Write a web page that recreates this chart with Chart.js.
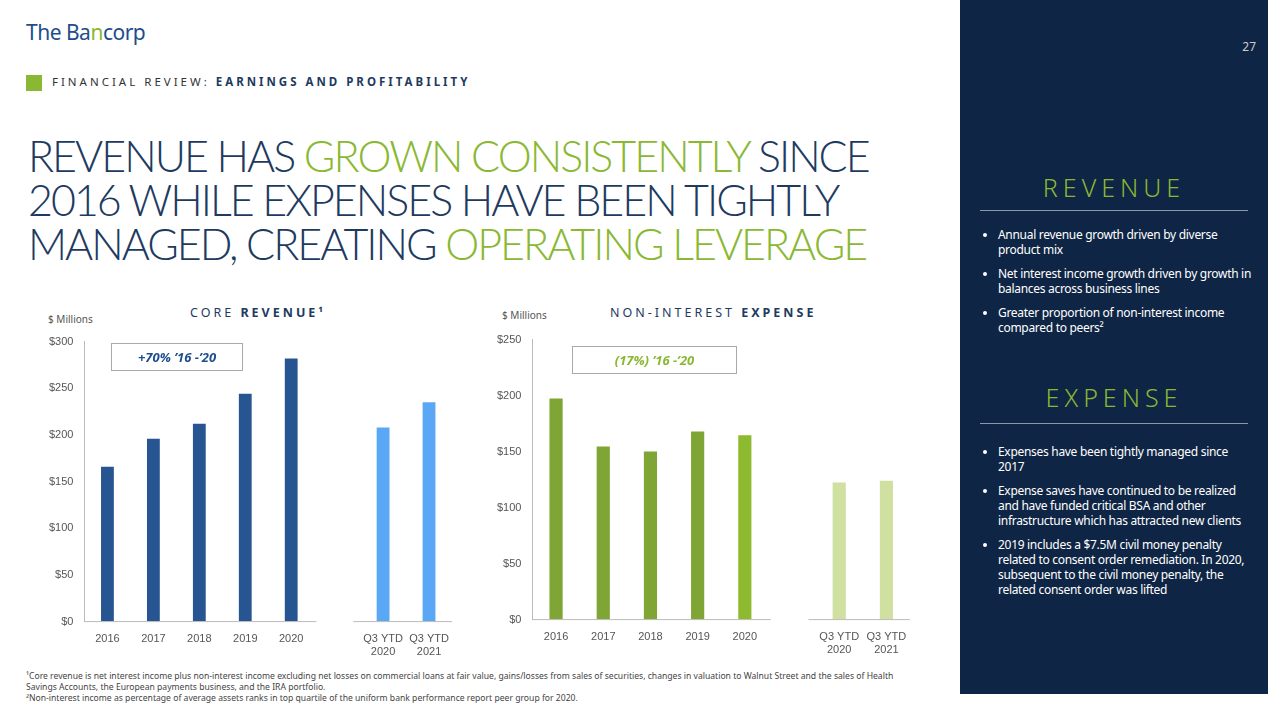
<!DOCTYPE html>
<html lang="en">
<head>
<meta charset="UTF-8">
<title>Revenue and Expense</title>
<style>
  body, html { margin:0; padding:0; overflow:hidden; background:#fff; font-family:"Noto Sans", sans-serif; }
  #slide { position:relative; width:1280px; height:720px; }
  .logo { position:absolute; left:26px; top:18px; font-size:21px; color:#1e4e8c; letter-spacing:-0.5px; }
  .logo span { color:#8ab833; }
  .sect { position:absolute; left:26px; top:74px; font-size:11.5px; letter-spacing:3px; color:#333; }
  .sect i { display:inline-block; width:16px; height:16px; background:#8ab833; vertical-align:middle; margin-right:10px; }
  .sect b { color:#1e3a5f; }
  h1 { position:absolute; left:28px; top:134px; margin:0; font-weight:300; font-size:43px; line-height:44px;
       color:#1e3a5f; letter-spacing:-2px; font-family:"Lato", sans-serif; }
  h1 span { color:#8ab833; }
  .ctitle { position:absolute; font-size:12.5px; letter-spacing:3px; color:#1e3a5f; }
  .unit { position:absolute; font-size:10px; color:#555; }
  .box { position:absolute; border:1px solid #aaa; font-weight:bold; font-style:italic; font-size:13px; text-align:center; line-height:26px; height:26px; }
  canvas.c { position:absolute; }
  .foot { position:absolute; left:26px; top:671px; font-size:8.6px; color:#444; line-height:11px; width:900px; }
  #panel { position:absolute; left:960px; top:0; width:308px; height:694px; background:#0f2545; color:#fff; }
  #panel .pg { position:absolute; right:12px; top:38px; font-size:12px; color:#ccc; }
  #panel h2 { position:absolute; left:0; width:308px; text-align:center; margin:0; font-weight:300; font-size:25px; letter-spacing:5px; color:#8ab833; }
  #panel hr { position:absolute; left:20px; width:268px; border:0; border-top:1px solid #8899aa; margin:0; }
  #panel ul { position:absolute; left:24px; width:255px; margin:0; padding:0 0 0 14px; font-size:12px; line-height:15px; letter-spacing:-0.3px; }
  #panel li { margin-bottom:9px; }
</style>
</head>
<body>
<div id="slide">
  <div class="logo">The Ba<span>n</span>corp</div>
  <div class="sect"><i></i>FINANCIAL REVIEW: <b>EARNINGS AND PROFITABILITY</b></div>
  <h1>REVENUE HAS <span>GROWN CONSISTENTLY</span> SINCE<br>2016 WHILE EXPENSES HAVE BEEN TIGHTLY<br>MANAGED, CREATING <span>OPERATING LEVERAGE</span></h1>

  <div class="ctitle" style="left:190px;top:304px">CORE <b>REVENUE¹</b></div>
  <div class="unit" style="left:48px;top:312px">$ Millions</div>
  <canvas class="c" id="rev" width="410" height="330" style="left:46px;top:332px"></canvas>
  <div class="box" style="left:111px;top:343px;width:130px;color:#1e4e8c">+70% ’16 -’20</div>

  <div class="ctitle" style="left:610px;top:304px">NON-INTEREST <b>EXPENSE</b></div>
  <div class="unit" style="left:502px;top:308px">$ Millions</div>
  <canvas class="c" id="exp" width="420" height="330" style="left:494px;top:330px"></canvas>
  <div class="box" style="left:572px;top:346px;width:163px;color:#8ab833">(17%) ’16 -’20</div>

  <div class="foot">¹Core revenue is net interest income plus non-interest income excluding net losses on commercial loans at fair value, gains/losses from sales of securities, changes in valuation to Walnut Street and the sales of Health Savings Accounts, the European payments business, and the IRA portfolio.<br>²Non-interest income as percentage of average assets ranks in top quartile of the uniform bank performance report peer group for 2020.</div>

  <div id="panel">
    <div class="pg">27</div>
    <h2 style="top:170px">REVENUE</h2>
    <hr style="top:210px">
    <ul style="top:227px">
      <li>Annual revenue growth driven by diverse product mix</li>
      <li>Net interest income growth driven by growth in balances across business lines</li>
      <li>Greater proportion of non-interest income compared to peers²</li>
    </ul>
    <h2 style="top:380px">EXPENSE</h2>
    <hr style="top:423px">
    <ul style="top:444px">
      <li>Expenses have been tightly managed since 2017</li>
      <li>Expense saves have continued to be realized and have funded critical BSA and other infrastructure which has attracted new clients</li>
      <li>2019 includes a $7.5M civil money penalty related to consent order remediation. In 2020, subsequent to the civil money penalty, the related consent order was lifted</li>
    </ul>
  </div>
</div>

<script src="https://cdn.jsdelivr.net/npm/chart.js"></script>
<script>
  const labels = ['2016', '2017', '2018', '2019', '2020', '', ['Q3 YTD', '2020'], ['Q3 YTD', '2021']];
  const revenue = [166, 196, 212, 244, 282, null, 208, 235];
  const expense = [197.5, 154.5, 150, 168, 164.5, null, 122.5, 124];

  // baseline drawn in two pieces, broken at the blank category
  const splitBase = {
    id: 'splitBase',
    afterDatasetsDraw(chart) {
      const x = chart.scales.x, y = chart.scales.y, c = chart.ctx;
      const step = x.getPixelForValue(1) - x.getPixelForValue(0);
      const yb = y.getPixelForValue(0);
      c.save();
      c.strokeStyle = '#bbb'; c.lineWidth = 1;
      c.beginPath();
      c.moveTo(x.left, yb); c.lineTo(x.getPixelForValue(4) + step * 0.55, yb);
      c.moveTo(x.getPixelForValue(6) - step * 0.65, yb); c.lineTo(x.right, yb);
      c.stroke();
      c.restore();
    }
  };

  function makeChart(id, data, colors, max) {
    return new Chart(document.getElementById(id).getContext('2d'), {
      type: 'bar',
      data: { labels, datasets: [{ data, backgroundColor: colors, barPercentage: 0.62, categoryPercentage: 0.45 }] },
      options: {
        responsive: false, animation: false,
        plugins: { legend: { display: false }, tooltip: { enabled: false } },
        layout: { padding: { top: 6, right: 4 } },
        scales: {
          x: { grid: { display: false }, border: { display: false },
               ticks: { color: '#555', font: { size: 11 }, maxRotation: 0, autoSkip: false } },
          y: { min: 0, max, grid: { display: false }, border: { color: '#bbb' },
               ticks: { stepSize: 50, color: '#555', font: { size: 11 }, callback: v => '$' + v } }
        }
      },
      plugins: [splitBase]
    });
  }

  makeChart('rev', revenue, ['#275592', '#275592', '#275592', '#275592', '#275592', null, '#5aa7f5', '#5aa7f5'], 300);
  makeChart('exp', expense, ['#7fa535', '#7fa535', '#7fa535', '#7fa535', '#8dba2e', null, '#cfe0a0', '#cfe0a0'], 250);
</script>
</body>
</html>
